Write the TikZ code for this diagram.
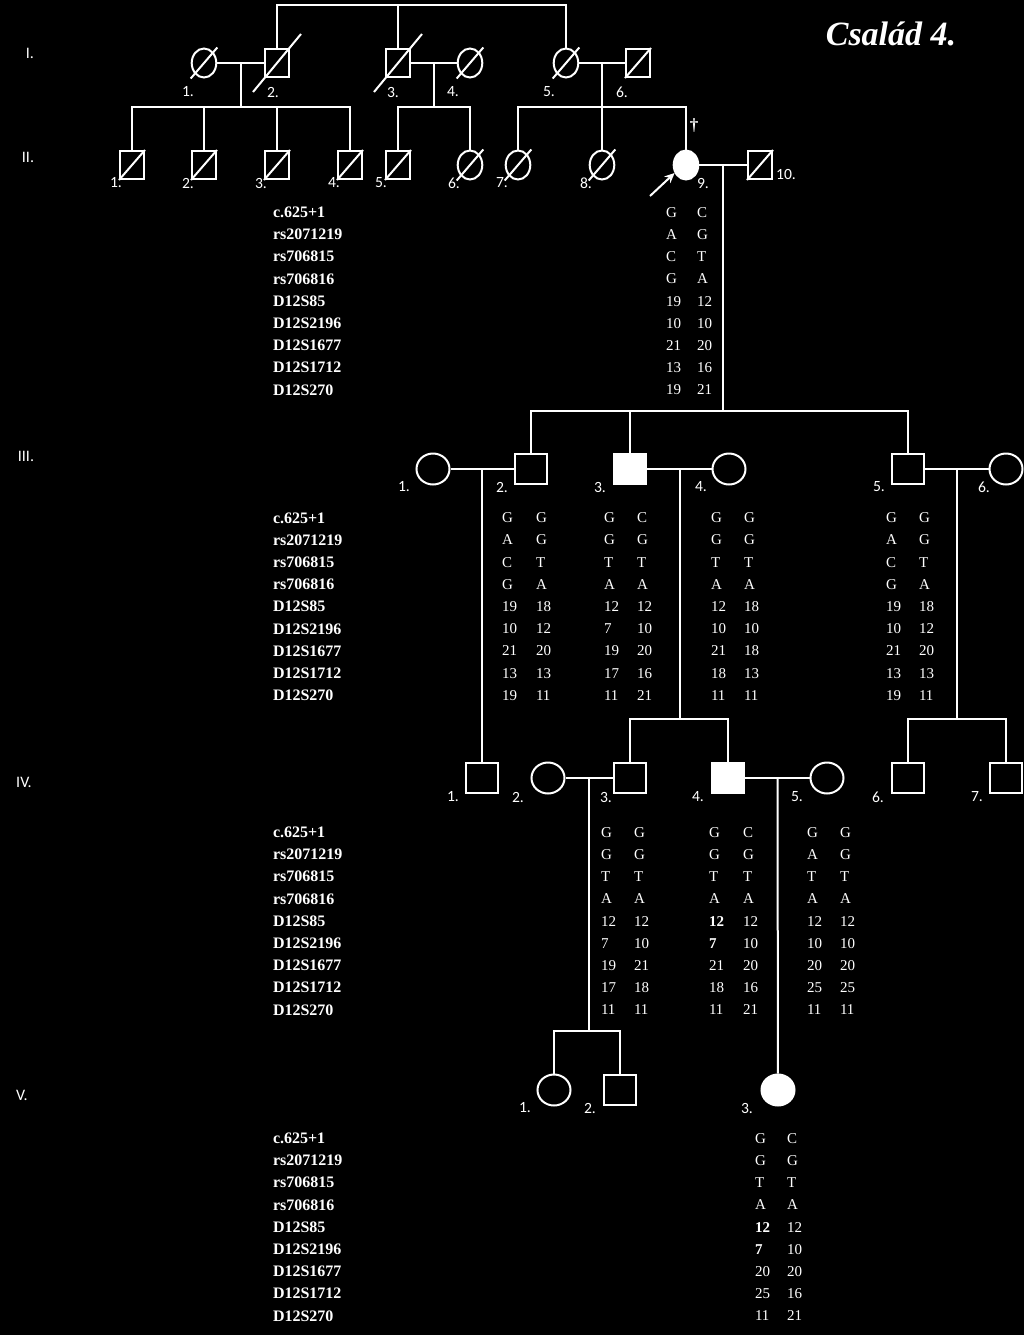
\documentclass[tikz,border=0pt]{standalone}
\usepackage{fontspec}
\setmainfont{Liberation Serif}
\newfontfamily\lblfont{Carlito}
\usetikzlibrary{shapes.geometric, calc, arrows.meta}
\newcommand{\mkrows}[2]{%
  \foreach \m [count=\i from 0] in {c.625+1, rs2071219, rs706815, rs706816, D12S85, D12S2196, D12S1677, D12S1712, D12S270}
    {\node[mkr] (#1-\i) at (272,{#2+22.2*\i}) {\m};}}
\newcommand{\haplo}[5]{%
  \foreach \a/\b [count=\i from 0] in {#5}
    {\node[al] (#1-\i-a) at (#2,{#4+22.2*\i}) {\a};
     \node[al] (#1-\i-b) at (#3,{#4+22.2*\i}) {\b};}}

\begin{document}
\begin{tikzpicture}[x=0.5pt, y=-0.5pt, color=white, line width=1pt,
    sq/.style={rectangle, draw, inner sep=0pt, minimum width=12pt, minimum height=14pt},
    ci/.style={ellipse, draw, inner sep=0pt, minimum width=12.3pt, minimum height=14.5pt},
    Sq/.style={rectangle, draw, inner sep=0pt, minimum width=16pt, minimum height=15pt},
    Ci/.style={ellipse, draw, inner sep=0pt, minimum width=16.5pt, minimum height=15.5pt},
    aff/.style={fill=white},
    lbl/.style={font=\lblfont\fontsize{7.8}{9}\selectfont, inner sep=0pt},
    gen/.style={font=\lblfont\fontsize{8}{9}\selectfont, inner sep=0pt},
    mkr/.style={font=\bfseries\fontsize{8}{9}\selectfont, anchor=west, inner sep=0pt, text height=5.5pt, text depth=0pt},
    al/.style={font=\fontsize{7.5}{9}\selectfont, anchor=west, inner sep=0pt, text height=5.2pt, text depth=0pt}]
  \useasboundingbox (0,0) rectangle (1024,1335);
  \fill[black] (0,0) rectangle (1024,1335);
  \node[font=\bfseries\itshape\fontsize{17}{20}\selectfont, inner sep=0pt] (title) at (891,34) {Család 4.};
  \foreach \t/\x/\y [count=\i] in {I./30/53, II./28/157, III./26/456, IV./24/782, V./22/1095}
    \node[gen] (g\i) at (\x,\y) {\t};

  \node[ci] (i1) at (204,63) {};
  \node[sq] (i2) at (277,63) {};
  \node[sq] (i3) at (398,63) {};
  \node[ci] (i4) at (470,63) {};
  \node[ci] (i5) at (566,63) {};
  \node[sq] (i6) at (638,63) {};

  \node[sq] (ii1) at (132,165) {};
  \node[sq] (ii2) at (204,165) {};
  \node[sq] (ii3) at (277,165) {};
  \node[sq] (ii4) at (350,165) {};
  \node[sq] (ii5) at (398,165) {};
  \node[ci] (ii6) at (470,165) {};
  \node[ci] (ii7) at (518,165) {};
  \node[ci] (ii8) at (602,165) {};
  \node[ci, aff] (ii9) at (686,165) {};
  \node[sq] (ii10) at (760,165) {};
  \node[font=\bfseries\fontsize{8.5}{9}\selectfont, inner sep=0pt] (dag) at (694,126) {†};

  \node[Ci] (iii1) at (433,469) {};
  \node[Sq] (iii2) at (531,469) {};
  \node[Sq, aff] (iii3) at (630,469) {};
  \node[Ci] (iii4) at (729,469) {};
  \node[Sq] (iii5) at (908,469) {};
  \node[Ci] (iii6) at (1006,469) {};

  \node[Sq] (iv1) at (482,778) {};
  \node[Ci] (iv2) at (548,778) {};
  \node[Sq] (iv3) at (630,778) {};
  \node[Sq, aff] (iv4) at (728,778) {};
  \node[Ci] (iv5) at (827,778) {};
  \node[Sq] (iv6) at (908,778) {};
  \node[Sq] (iv7) at (1006,778) {};

  \node[Ci] (v1) at (554,1090) {};
  \node[Sq] (v2) at (620,1090) {};
  \node[Ci, aff] (v3) at (778,1090) {};

  \foreach \n in {i1,i4,i5,i6,ii1,ii2,ii3,ii4,ii5,ii6,ii7,ii8,ii10}
    \draw (\n.south -| \n.west) -- (\n.north -| \n.east);
  \foreach \n in {i2,i3}
    \draw ($(\n)+(-24,29)$) -- ($(\n)+(24,-29)$);

  \coordinate (t) at (0,5);
  \coordinate (s2) at (0,107);
  \coordinate (s3) at (0,411);
  \coordinate (s4) at (0,719);
  \coordinate (s5) at (0,1031);
  \draw (i2) -- (i2 |- t) -- (i5 |- t) -- (i5);
  \draw (i3) -- (i3 |- t);

  \draw (i1) -- (i2);
  \draw (i3) -- (i4);
  \draw (i5) -- (i6);
  \coordinate (c12) at ($(i1)!.5!(i2)$);
  \coordinate (c34) at ($(i3)!.5!(i4)$);
  \coordinate (c56) at ($(i5)!.5!(i6)$);
  \draw (c12) -- (c12 |- s2);
  \draw (ii1) |- (c12 |- s2) -| (ii4);
  \draw (ii2) -- (ii2 |- s2);
  \draw (ii3) -- (ii3 |- s2);
  \draw (c34) -- (c34 |- s2);
  \draw (ii5) |- (c34 |- s2) -| (ii6);
  \draw (c56) -- (ii8);
  \draw (ii7) |- (c56 |- s2) -| (ii9);

  \draw (ii9) -- (ii10);
  \coordinate (c910) at ($(ii9)!.5!(ii10)$);
  \draw (c910) -- (c910 |- s3);
  \draw (iii2) |- (c910 |- s3) -| (iii5);
  \draw (iii3) -- (iii3 |- s3);
  \coordinate (pa) at (650,196);
  \draw[-{Stealth[length=5pt, width=4.5pt]}] (pa) -- (ii9.215);

  \draw (iii1) -- (iii2);
  \draw (iii3) -- (iii4);
  \draw (iii5) -- (iii6);
  \coordinate (c3a) at ($(iii1)!.5!(iii2)$);
  \coordinate (c3b) at ($(iii3)!.5!(iii4)$);
  \coordinate (c3c) at ($(iii5)!.5!(iii6)$);
  \draw (c3a) -- (iv1);
  \draw (c3b) -- (c3b |- s4);
  \draw (iv3) |- (c3b |- s4) -| (iv4);
  \draw (c3c) -- (c3c |- s4);
  \draw (iv6) |- (c3c |- s4) -| (iv7);

  \draw (iv2) -- (iv3);
  \draw (iv4) -- (iv5);
  \coordinate (c4a) at ($(iv2)!.5!(iv3)$);
  \coordinate (c4b) at ($(iv4)!.5!(iv5)$);
  \draw (c4a) -- (c4a |- s5);
  \draw (v1) |- (c4a |- s5) -| (v2);
  \draw (c4b) -- (v3);

  \foreach \n/\x/\y/\t in {i1/188/92/1., i2/273/92/2., i3/393/92/3., i4/453/92/4., i5/549/92/5., i6/622/92/6.,
      ii1/116/183/1., ii2/188/183/2., ii3/261/183/3., ii4/334/183/4., ii5/381/183/5., ii6/454/183/6.,
      ii7/502/183/7., ii8/586/183/8., ii9/703/183/9., ii10/786/174/10.,
      iii1/404/487/1., iii2/502/487/2., iii3/600/487/3., iii4/701/487/4., iii5/879/487/5., iii6/984/487/6.,
      iv1/453/797/1., iv2/518/797/2., iv3/606/797/3., iv4/698/797/4., iv5/797/797/5., iv6/878/797/6., iv7/977/797/7.,
      v1/525/1108/1., v2/590/1108/2., v3/747/1108/3.}
    \node[lbl] (l\n) at (\x,\y) {\t};

  \mkrows{m2}{212}
  \haplo{h29}{665}{696}{212}{G/C, A/G, C/T, G/A, 19/12, 10/10, 21/20, 13/16, 19/21}
  \mkrows{m3}{517.5}
  \haplo{h32}{501}{535}{517.5}{G/G, A/G, C/T, G/A, 19/18, 10/12, 21/20, 13/13, 19/11}
  \haplo{h33}{603}{636}{517.5}{G/C, G/G, T/T, A/A, 12/12, 7/10, 19/20, 17/16, 11/21}
  \haplo{h34}{710}{743}{517.5}{G/G, G/G, T/T, A/A, 12/18, 10/10, 21/18, 18/13, 11/11}
  \haplo{h35}{885}{918}{517.5}{G/G, A/G, C/T, G/A, 19/18, 10/12, 21/20, 13/13, 19/11}
  \mkrows{m4}{832}
  \haplo{h43}{600}{633}{832}{G/G, G/G, T/T, A/A, 12/12, 7/10, 19/21, 17/18, 11/11}
  \haplo{h44}{708}{742}{832}{G/C, G/G, T/T, A/A, \textbf{12}/12, \textbf{7}/10, 21/20, 18/16, 11/21}
  \haplo{h45}{806}{839}{832}{G/G, A/G, T/T, A/A, 12/12, 10/10, 20/20, 25/25, 11/11}
  \mkrows{m5}{1138}
  \haplo{h53}{754}{786}{1138}{G/C, G/G, T/T, A/A, \textbf{12}/12, \textbf{7}/10, 20/20, 25/16, 11/21}
\end{tikzpicture}
\end{document}
